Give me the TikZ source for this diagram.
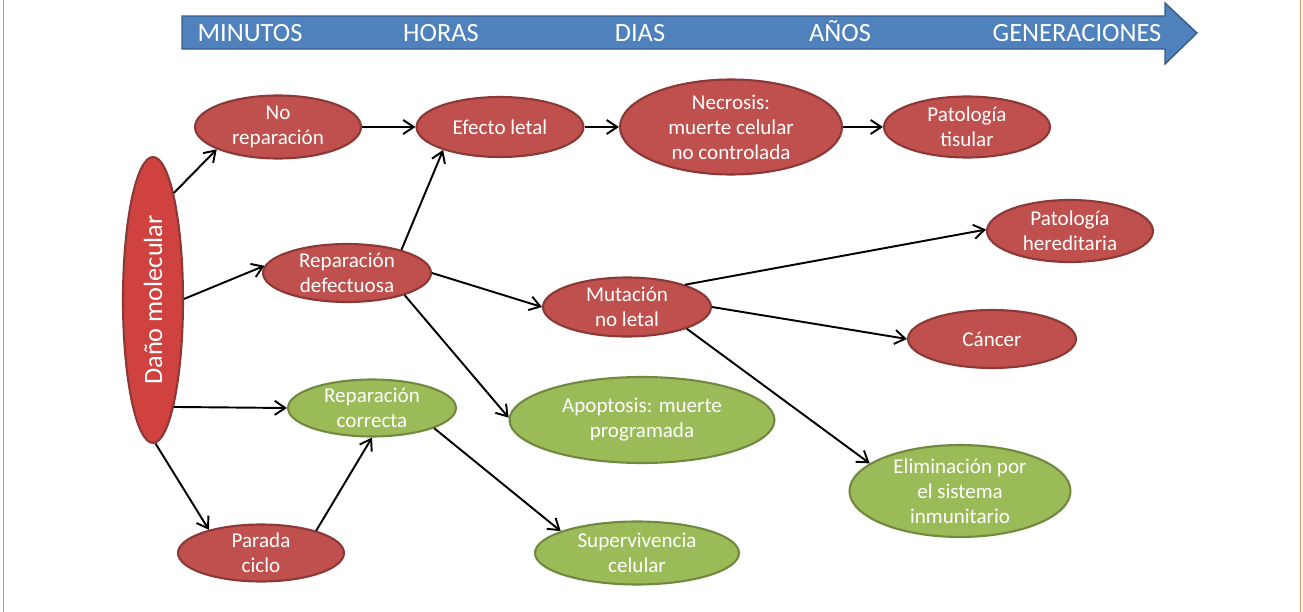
\documentclass[tikz,border=0pt]{standalone}
\usepackage{fontspec}
\setmainfont{Carlito}
\usetikzlibrary{arrows.meta,shapes.geometric}
\definecolor{redfill}{RGB}{192,80,77}
\definecolor{redline}{RGB}{140,56,54}
\definecolor{danofill}{RGB}{208,66,63}
\definecolor{greenfill}{RGB}{155,187,89}
\definecolor{greenline}{RGB}{113,137,63}
\definecolor{bluefill}{RGB}{79,129,189}
\definecolor{blueline}{RGB}{56,93,138}
\definecolor{frameline}{RGB}{222,150,92}

\begin{document}
\begin{tikzpicture}[x=0.02cm, y=0.02cm]
\tikzstyle{every node}+=[inner sep=0pt, text=white, align=center, font=\fontsize{12}{14.2}\selectfont]
\tikzstyle{redel}=[ellipse, draw=redline, fill=redfill, line width=1.2pt]
\tikzstyle{greenel}=[ellipse, draw=greenline, fill=greenfill, line width=1.2pt]
\tikzstyle{timelabel}=[anchor=base, font=\fontsize{15}{18}\selectfont]
\tikzstyle{conn}=[black, line width=1.1pt, -{Straight Barb[length=6pt,width=8pt]}]
\useasboundingbox (0,0) rectangle (1303,-612);
\draw [frameline] (3,0) -- (3,-612);
\draw [frameline] (1300,0) -- (1300,-612);
% time arrow
\draw [blueline, fill=bluefill, line width=0.8pt] (182,-16) -- (1165,-16) -- (1165,-3) -- (1197,-33) -- (1165,-64) -- (1165,-49) -- (182,-49) -- cycle;
\node [timelabel] (minutos) at (250,-41) {MINUTOS};
\node [timelabel] (horas) at (441,-41) {HORAS};
\node [timelabel] (dias) at (640,-41) {DIAS};
\node [timelabel] (anos) at (840,-41) {AÑOS};
\node [timelabel] (generaciones) at (1077,-41) {GENERACIONES};
% nodes
\node [redel, fill=danofill, minimum width=1.2cm, minimum height=5.72cm] (dano) at (153,-300) {\rotatebox{90}{\fontsize{15}{18}\selectfont Daño molecular}};
\node [redel, minimum width=3.32cm, minimum height=1.26cm] (norep) at (278,-127) {No\\reparación};
\node [redel, minimum width=3.34cm, minimum height=1.2cm] (efecto) at (500,-127) {Efecto letal};
\node [redel, minimum width=4.44cm, minimum height=1.9cm] (necro) at (731,-127) {Necrosis:\\muerte celular\\no controlada};
\node [redel, minimum width=3.32cm, minimum height=1.22cm] (tisular) at (967,-127) {Patología\\tisular};
\node [redel, minimum width=3.32cm, minimum height=1.24cm] (hered) at (1070,-231) {Patología\\hereditaria};
\node [redel, minimum width=3.36cm, minimum height=1.16cm] (defect) at (347,-273) {Reparación\\defectuosa};
\node [redel, minimum width=3.36cm, minimum height=1.18cm] (mut) at (627,-307) {Mutación\\no letal};
\node [redel, minimum width=3.36cm, minimum height=1.16cm] (cancer) at (992,-339) {Cáncer};
\node [greenel, minimum width=5.3cm, minimum height=1.72cm] (apopt) at (642,-420) {Apoptosis: muerte\\programada};
\node [greenel, minimum width=4.42cm, minimum height=1.84cm] (elim) at (960,-491) {Eliminación por\\el sistema\\inmunitario};
\node [greenel, minimum width=3.36cm, minimum height=1.14cm] (corr) at (372,-408) {Reparación\\correcta};
\node [redel, minimum width=3.32cm, minimum height=1.14cm] (parada) at (261,-553) {Parada\\ciclo};
\node [greenel, minimum width=4.08cm, minimum height=1.26cm] (superv) at (637,-553) {Supervivencia\\celular};
% connectors
\draw [conn] (dano.79) -- (norep.200);
\draw [conn] (dano.2) -- (defect.175);
\draw [conn] (dano.281) -- (corr.180);
\draw [conn] (dano.271) -- (parada.156);
\draw [conn] (norep) -- (efecto);
\draw [conn] (efecto) -- (necro);
\draw [conn] (necro) -- (tisular);
\draw [conn] (defect.23) -- (efecto.202);
\draw [conn] (defect.0) -- (mut.180);
\draw [conn] (defect.339) -- (apopt.179);
\draw [conn] (mut.21) -- (hered.179);
\draw [conn] (mut.0) -- (cancer.180);
\draw [conn] (mut.340) -- (elim.163);
\draw [conn] (parada.22) -- (corr.270);
\draw [conn] (corr.342) -- (superv.164);
\end{tikzpicture}
\end{document}
